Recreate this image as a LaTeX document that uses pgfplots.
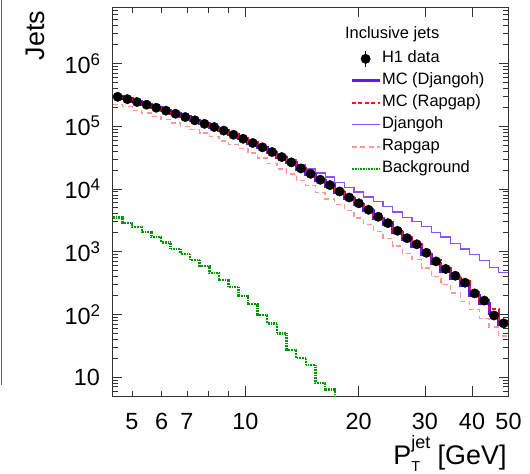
\documentclass[border=0pt]{standalone}
\usepackage{pgfplots}
\usepackage{pgfplotstable}
\pgfplotsset{compat=1.18}
\usepackage{fontspec}
\setmainfont{Liberation Sans}

\definecolor{mcdj}{RGB}{100,20,255}
\definecolor{djc}{RGB}{140,80,255}
\definecolor{mcrg}{RGB}{255,20,20}
\definecolor{rgc}{RGB}{255,150,150}
\definecolor{bgc}{RGB}{0,150,0}

\newcommand\tp[1]{10\raisebox{8bp}{\fontsize{17}{17}\selectfont #1}}

\pgfplotstableread{
x dj rg mcdj mcrg
4.4500 300000 222000 297000 291000
4.7204 273000 206000 272000 268000
5.0073 246000 180000 245000 241000
5.3115 223000 162000 222000 219000
5.6343 200000 142000 199000 196000
5.9767 179000 127000 178000 176000
6.3399 160000 113000 159000 157000
6.7252 142000 100000 141000 140000
7.1338 126000 88000 125000 124000
7.5673 111000 78000 110000 109000
8.0272 98500 68000 97000 97500
8.5150 86500 58000 85000 85500
9.0324 74500 51000 73000 74000
9.5813 64500 44500 62500 64000
10.1635 55500 37400 53500 55000
10.7811 47500 31200 45500 46800
11.4363 40500 25300 38200 39400
12.1312 34500 20800 31800 32800
12.8684 29200 17300 26000 27000
13.6504 24400 13700 20700 21700
14.4799 20800 11300 16900 17800
15.3598 18000 8800 13600 14400
16.2932 15500 6900 11100 11800
17.2833 12700 5600 8750 9350
18.3336 10600 4500 7000 7500
19.4477 8960 3450 5650 6050
20.6295 7460 2700 4450 4800
21.8831 6300 2090 3430 3720
23.2129 5300 1630 2700 2950
24.6235 4300 1230 2030 2230
26.1198 3550 932 1550 1700
27.7070 3030 747 1230 1360
29.3907 2530 550 900 1000
31.1767 2030 404 655 730
33.0712 1710 298 490 555
35.0809 1340 220 380 432
37.2127 1100 162 290 336
39.4740 896 119 200 228
41.8727 727 85 150 170
44.4172 562 63 105 120
47.1163 468 45 70 74
49.9794 468 45 70 74
}\hist

\pgfplotstableread{
x bg
4.4500 3500
4.7204 2880
5.0073 2450
5.3115 2070
5.6343 1720
5.9767 1410
6.3399 1110
6.7252 925
7.1338 742
7.5673 596
8.0272 455
8.5150 356
9.0324 272
9.5813 197
10.1635 147
10.7811 98
11.4363 72
12.1312 50
12.8684 27
13.6504 20
14.4799 15.7
15.3598 8.0
16.2932 6.3
17.2833 3
18.3336 3
}\bgtab

\pgfplotstableread{
c d
4.583 294000
4.862 270000
5.157 243000
5.471 220000
5.803 197000
6.156 177000
6.530 158000
6.927 140000
7.347 124000
7.794 109000
8.268 97000
8.770 85000
9.303 73000
9.868 63000
10.468 54000
11.104 46000
11.779 38700
12.494 32200
13.254 26500
14.059 21200
14.913 17400
15.820 14000
16.781 11500
17.801 9100
18.883 7300
20.030 5900
21.247 4650
22.538 3600
23.908 2850
25.361 2150
26.902 1640
28.537 1310
30.271 960
32.110 700
34.061 530
36.131 413
38.327 320
40.656 216
43.126 166
45.747 96
48.527 72
}\datatab

\begin{document}
\begin{tikzpicture}
\useasboundingbox (-112.5bp,-78bp) rectangle (417.5bp,396bp);
\begin{axis}[
  at={(0,0)}, anchor=south west,
  width=396bp, height=388.5bp, scale only axis,
  xmode=log, ymode=log,
  xmin=4.44, xmax=50, ymin=5, ymax=7.8e6,
  axis line style={line width=0.9bp, black!80},
  tick style={black!80, line width=0.8bp},
  tick align=inside, xtick pos=both, ytick pos=both,
  major tick length=10bp, minor tick length=5.5bp,
  xtick={10,20,30,40,50}, xticklabels={10,20,30,40,50},
  extra x ticks={5,6,7,8,9}, extra x tick labels={5,6,7,{},{}},
  extra x tick style={major tick length=5.5bp},
  ytick={10,100,1000,10000,100000,1000000},
  yticklabels={10,\tp{2},\tp{3},\tp{4},\tp{5},\tp{6}},
  minor ytick={5,6,7,8,9,20,30,40,50,60,70,80,90,200,300,400,500,600,700,800,900,2000,3000,4000,5000,6000,7000,8000,9000,20000,30000,40000,50000,60000,70000,80000,90000,200000,300000,400000,500000,600000,700000,800000,900000,2000000,3000000,4000000,5000000,6000000,7000000},
  tick label style={font=\fontsize{23.5}{23.5}\selectfont},
  xticklabel style={yshift=-14bp},
  yticklabel style={xshift=-9bp},
  label style={font=\fontsize{27}{27}\selectfont},
  xlabel={P\rlap{\raisebox{-7bp}{\fontsize{14.5}{14.5}\selectfont T}}\raisebox{16bp}{\fontsize{18}{18}\selectfont jet} [GeV]},
  xlabel style={at={(axis description cs:1.0038,-0.1776)}, anchor=base east},
  ylabel={Jets},
  ylabel style={at={(axis description cs:-0.1705,1.0)}, anchor=base east},
  legend style={at={(axis description cs:0.592,0.8966)}, anchor=north west, draw=none, fill=none,
    font=\fontsize{16.5}{16.5}\selectfont, row sep=4bp,
    nodes={inner sep=1bp, text height=12bp, text depth=4bp}},
  legend cell align=left,
  legend image code/.code={\draw[#1] (0bp,0bp) -- (28bp,0bp);},
]
\addplot[const plot, djc, line width=1.2bp, forget plot] table[x=x, y=dj] {\hist};
\addplot[const plot, rgc, line width=1.3bp, dash pattern=on 5bp off 3.5bp, forget plot] table[x=x, y=rg] {\hist};
\addplot[const plot, bgc, line width=2.5bp, dash pattern=on 0.8bp off 0.8bp, forget plot] table[x=x, y=bg] {\bgtab};
\addplot[const plot, mcdj, line width=3bp, forget plot] table[x=x, y=mcdj] {\hist};
\addplot[const plot, mcrg, line width=2bp, dash pattern=on 4bp off 2.5bp, forget plot] table[x=x, y=mcrg] {\hist};
\addplot[only marks, mark=*, mark size=4.7bp, black, forget plot] table[x=c, y=d] {\datatab};

\addlegendimage{legend image code/.code={\draw[black, line width=1.2bp] (14bp,-8bp) -- (14bp,8bp); \fill[black] (14bp,0bp) circle (4.7bp);}}
\addlegendentry{H1 data}
\addlegendimage{mcdj, line width=3bp}
\addlegendentry{MC (Djangoh)}
\addlegendimage{mcrg, line width=2bp, dash pattern=on 4bp off 2.5bp}
\addlegendentry{MC (Rapgap)}
\addlegendimage{djc, line width=1.2bp}
\addlegendentry{Djangoh}
\addlegendimage{rgc, line width=1.3bp, dash pattern=on 5bp off 3.5bp}
\addlegendentry{Rapgap}
\addlegendimage{bgc, line width=2.5bp, dash pattern=on 0.8bp off 0.8bp}
\addlegendentry{Background}

\node[anchor=base west, font=\fontsize{16.5}{16.5}\selectfont, inner sep=0pt] at (axis description cs:0.587,0.919) {Inclusive jets};
\end{axis}
\draw[black!60, line width=1bp] (-111bp,11bp) -- (-111bp,396bp);
\end{tikzpicture}
\end{document}
